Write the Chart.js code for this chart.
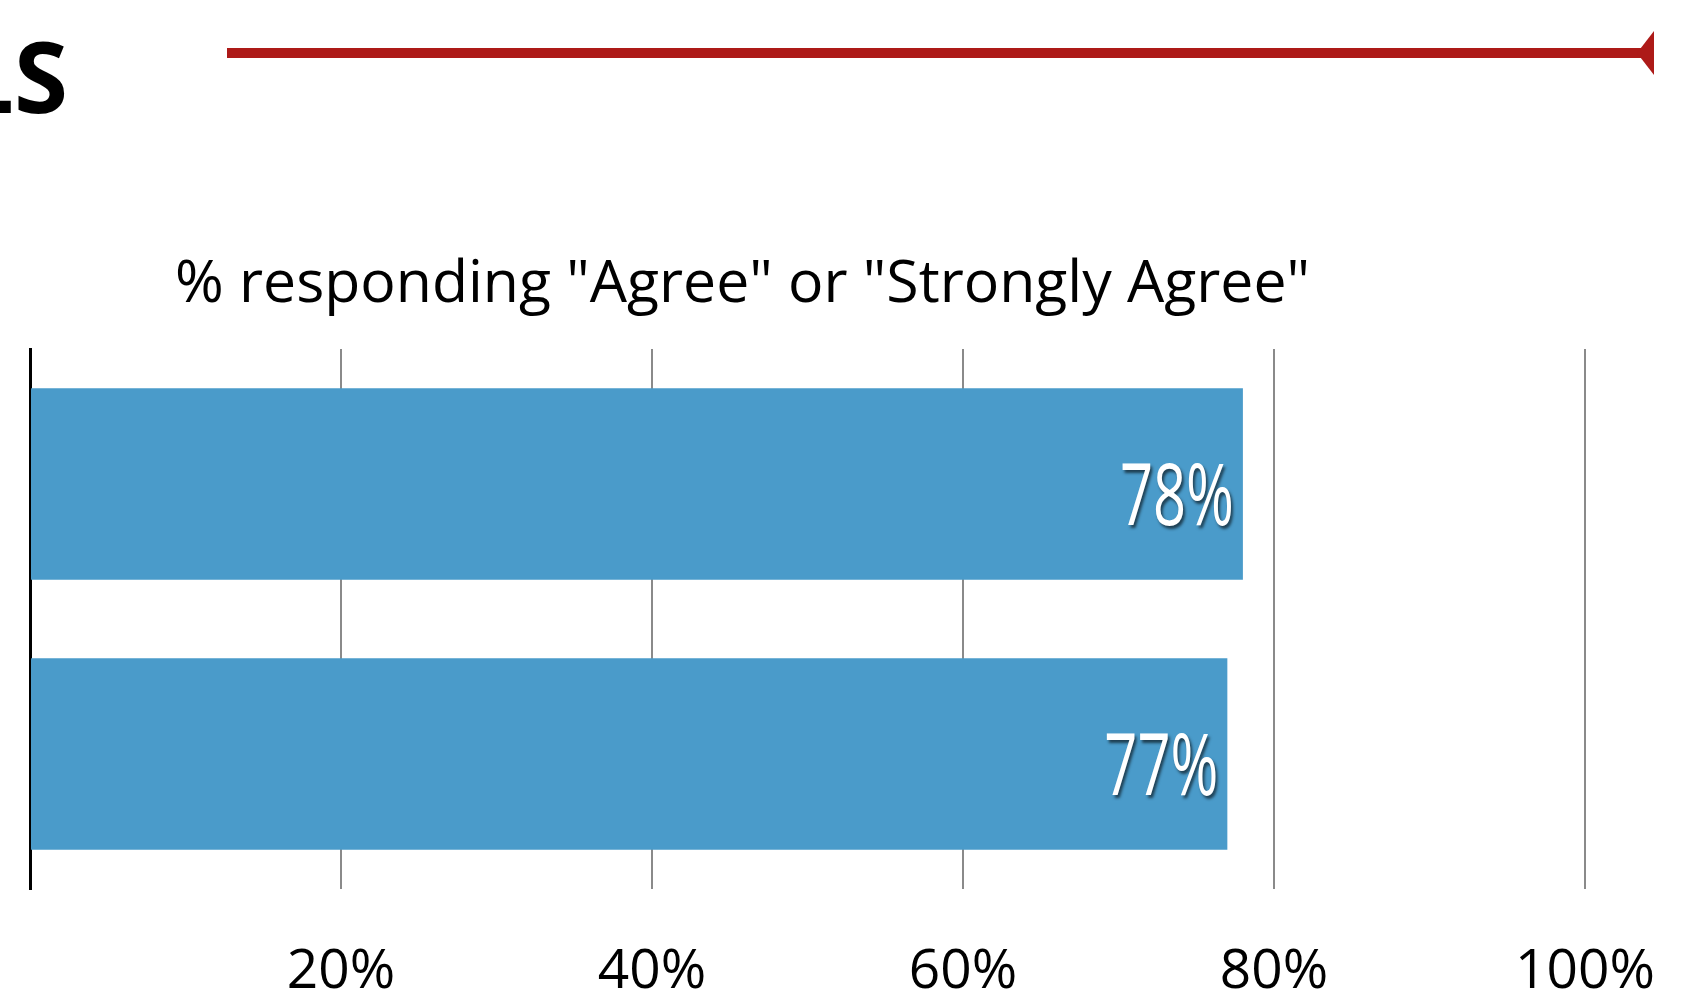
<!DOCTYPE html>
<html>
<head>
<meta charset="utf-8">
<script src="https://cdn.jsdelivr.net/npm/chart.js@4.4.1/dist/chart.umd.min.js"></script>
<style>
  html, body { margin: 0; padding: 0; background: #fff; overflow: hidden; }
  canvas { display: block; }
</style>
</head>
<body>
<canvas id="myChart" width="1682" height="991"></canvas>
<script>
const statements = ["Statement 1", "Statement 2"];
const agreeShare = [78, 77];
const tickValues = [0, 20, 40, 60, 80, 100];
const chartTitle = '% responding "Agree" or "Strongly Agree"';
const headerText = "LS";

const barBlue = "#4a9bca";
const headerRed = "#ad1a18";

// draw text squeezed horizontally so it fills a given width
function squeezeText(ctx, text, x, y, width, align) {
  const w = ctx.measureText(text).width;
  ctx.save();
  ctx.translate(x, y);
  ctx.scale(width / w, 1);
  ctx.textAlign = align;
  ctx.fillText(text, 0, 0);
  ctx.restore();
}

const headerPlugin = {
  id: "header",
  beforeDraw(chart) {
    const ctx = chart.ctx;
    ctx.save();
    ctx.fillStyle = "#fff";
    ctx.fillRect(0, 0, chart.width, chart.height);

    // cut-off page heading
    ctx.fillStyle = "#000";
    ctx.font = "bold 98px 'Open Sans'";
    ctx.textBaseline = "alphabetic";
    ctx.textAlign = "right";
    ctx.fillText(headerText, 68, 113);

    // red rule with arrow head
    ctx.strokeStyle = headerRed;
    ctx.lineWidth = 10;
    ctx.beginPath();
    ctx.moveTo(227, 53);
    ctx.lineTo(1642, 53);
    ctx.stroke();
    ctx.fillStyle = headerRed;
    ctx.beginPath();
    ctx.moveTo(1637, 53);
    ctx.lineTo(1654, 31);
    ctx.lineTo(1654, 75);
    ctx.closePath();
    ctx.fill();

    // chart title
    ctx.fillStyle = "#000";
    ctx.font = "59px 'Open Sans'";
    squeezeText(ctx, chartTitle, 175, 302, 1135, "left");
    ctx.restore();
  }
};

const valueLabels = {
  id: "valueLabels",
  afterDatasetsDraw(chart) {
    const ctx = chart.ctx;
    const meta = chart.getDatasetMeta(0);
    ctx.save();
    ctx.font = "86px 'Open Sans'";
    ctx.fillStyle = "#fff";
    ctx.textBaseline = "alphabetic";
    ctx.shadowColor = "rgba(0,0,0,0.6)";
    ctx.shadowOffsetX = 2;
    ctx.shadowOffsetY = 3;
    ctx.shadowBlur = 3;
    const sx = 114 / ctx.measureText("78%").width;
    meta.data.forEach((bar, i) => {
      const txt = agreeShare[i] + "%";
      ctx.save();
      ctx.translate(bar.x - 9, bar.y + 41);
      ctx.scale(sx, 1);
      ctx.textAlign = "right";
      ctx.fillText(txt, 0, 0);
      ctx.restore();
    });
    ctx.restore();
  }
};

new Chart("myChart", {
  type: "bar",
  data: {
    labels: statements,
    datasets: [{
      data: agreeShare,
      backgroundColor: barBlue,
      barPercentage: 0.71,
      categoryPercentage: 1
    }]
  },
  options: {
    indexAxis: "y",
    responsive: false,
    animation: false,
    devicePixelRatio: 1,
    layout: { padding: { top: 349, left: 30, right: 97, bottom: 0 } },
    plugins: {
      legend: { display: false },
      tooltip: { enabled: false },
      title: { display: false }
    },
    scales: {
      x: {
        min: 0,
        max: 100,
        afterBuildTicks: s => { s.ticks = tickValues.map(v => ({ value: v })); },
        afterFit: s => {
          s.height = 102;
          s.paddingLeft = 0;
          s.paddingRight = 0;
        },
        ticks: {
          callback: v => v === 0 ? "" : v + "%",
          color: "#000",
          font: { family: "'Open Sans', sans-serif", size: 55 },
          padding: 50,
          maxRotation: 0,
          autoSkip: false
        },
        grid: { color: "#8a8a8a", lineWidth: 2, drawTicks: false },
        border: { display: false }
      },
      y: {
        afterFit: s => {
          s.width = 0;
          s.paddingTop = 0;
          s.paddingBottom = 0;
        },
        ticks: { display: false },
        grid: { display: false, drawTicks: false },
        border: { color: "#000", width: 3 }
      }
    }
  },
  plugins: [headerPlugin, valueLabels]
});
</script>
</body>
</html>
